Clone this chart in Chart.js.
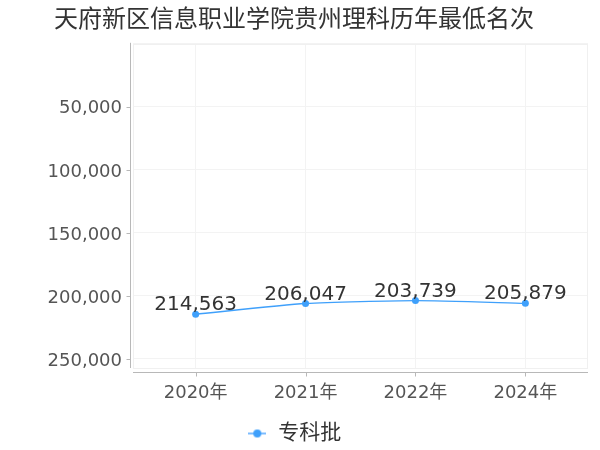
<!DOCTYPE html>
<html>
<head>
<meta charset="utf-8">
<script src="https://cdn.jsdelivr.net/npm/chart.js@4/dist/chart.umd.min.js"></script>
<style>
html,body{margin:0;padding:0;background:#fff;}
#wrap{width:600px;height:450px;}
</style>
</head>
<body>
<div id="wrap"><canvas id="c" width="600" height="450"></canvas></div>
<script>
const titleText = '天府新区信息职业学院贵州理科历年最低名次';
const categories = ['2020年', '2021年', '2022年', '2024年'];
const seriesName = '专科批';
const seriesValues = [214563, 206047, 203739, 205879];
const yTickValues = [0, 50000, 100000, 150000, 200000, 250000];

const FONT = '"DejaVu Sans", "Noto Sans CJK SC", sans-serif';
const BLUE = '#3fa0fb';

// legend marker: short line with dot
const mark = document.createElement('canvas');
mark.width = 18; mark.height = 10;
(function(){
  const g = mark.getContext('2d');
  g.strokeStyle = '#7cbcff'; g.lineWidth = 2;
  g.beginPath(); g.moveTo(0,5); g.lineTo(18,5); g.stroke();
  g.fillStyle = BLUE;
  g.beginPath(); g.arc(9,5,4,0,Math.PI*2); g.fill();
})();

const decor = {
  id: 'decor',
  beforeDatasetsDraw(chart) {
    const {ctx, chartArea: a} = chart;
    ctx.save();
    ctx.strokeStyle = '#f0f0f0'; ctx.lineWidth = 1;
    ctx.strokeRect(Math.round(a.left)+0.5, Math.round(a.top)+0.5, Math.round(a.right-a.left)-1, Math.round(a.bottom-a.top)-1);
    ctx.strokeStyle = '#b8b8b8';
    ctx.beginPath();
    ctx.moveTo(a.left-2.5, a.top-1); ctx.lineTo(a.left-2.5, a.bottom-1);
    ctx.moveTo(a.left, a.bottom+3.5); ctx.lineTo(a.right, a.bottom+3.5);
    const ys = chart.scales.y;
    ys.ticks.forEach(t => {
      if (t.value === 0) return;
      const y = Math.round(ys.getPixelForValue(t.value)) + 0.5;
      ctx.moveTo(a.left-6.5, y); ctx.lineTo(a.left-2.5, y);
    });
    const xs = chart.scales.x;
    xs.ticks.forEach(t => {
      const x = Math.round(xs.getPixelForValue(t.value)) + 0.5;
      ctx.moveTo(x, a.bottom+3.5); ctx.lineTo(x, a.bottom+7.5);
    });
    ctx.stroke();
    ctx.restore();
  },
  afterDatasetsDraw(chart) {
    const {ctx} = chart;
    const meta = chart.getDatasetMeta(0);
    ctx.save();
    ctx.font = '20px ' + FONT;
    ctx.fillStyle = '#333';
    ctx.textAlign = 'center';
    ctx.textBaseline = 'alphabetic';
    meta.data.forEach((p, i) => {
      ctx.fillText(seriesValues[i].toLocaleString('en-US'), p.x, p.y - 4);
    });
    ctx.restore();
  }
};

new Chart(document.getElementById('c'), {
  type: 'line',
  data: {
    datasets: [{
      label: seriesName,
      data: seriesValues.map((v, i) => ({x: i, y: v})),
      borderColor: BLUE,
      backgroundColor: BLUE,
      borderWidth: 1.3,
      pointRadius: 3.5,
      pointHoverRadius: 3.5,
      pointBackgroundColor: BLUE,
      pointBorderWidth: 0,
      pointStyle: 'circle',
      tension: 0.2,
      fill: false
    }]
  },
  plugins: [decor],
  options: {
    responsive: false,
    animation: false,
    devicePixelRatio: 1,
    layout: {padding: {left: 0, right: 12, top: 0, bottom: -4}},
    plugins: {
      title: {
        display: true,
        text: titleText,
        color: '#333',
        font: {family: FONT, size: 24, weight: 'normal'},
        padding: {top: 6, bottom: 9}
      },
      legend: {
        display: true,
        position: 'bottom',
        labels: {
          usePointStyle: true,
          pointStyle: mark,
          color: '#333',
          font: {family: FONT, size: 21},
          padding: 5,
          generateLabels(chart) {
            return [{text: seriesName, pointStyle: mark, fillStyle: BLUE, strokeStyle: BLUE, lineWidth: 0, datasetIndex: 0, fontColor: '#333'}];
          }
        }
      },
      tooltip: {enabled: false}
    },
    scales: {
      x: {
        type: 'linear',
        min: -0.57,
        max: 3.57,
        afterBuildTicks(s) { s.ticks = categories.map((_, i) => ({value: i})); },
        afterFit(s) {
          const lg = s.chart.legend ? s.chart.legend.height : 36;
          s.height = 450 + 4 - lg - 369;
        },
        ticks: {
          autoSkip: false,
          maxRotation: 0,
          padding: 14,
          color: '#555',
          font: {family: FONT, size: 18},
          callback: v => categories[v] !== undefined ? categories[v] : ''
        },
        grid: {color: '#f3f3f3', drawTicks: false},
        border: {display: false}
      },
      y: {
        reverse: true,
        min: 0,
        max: 258000,
        afterBuildTicks(s) { s.ticks = yTickValues.map(v => ({value: v})); },
        afterFit(s) { s.width = 133; },
        ticks: {
          padding: 11,
          labelOffset: 2,
          color: '#555',
          font: {family: FONT, size: 18},
          callback: v => v === 0 ? '' : v.toLocaleString('en-US')
        },
        grid: {color: '#f3f3f3', drawTicks: false},
        border: {display: false}
      }
    }
  }
});
</script>
</body>
</html>
